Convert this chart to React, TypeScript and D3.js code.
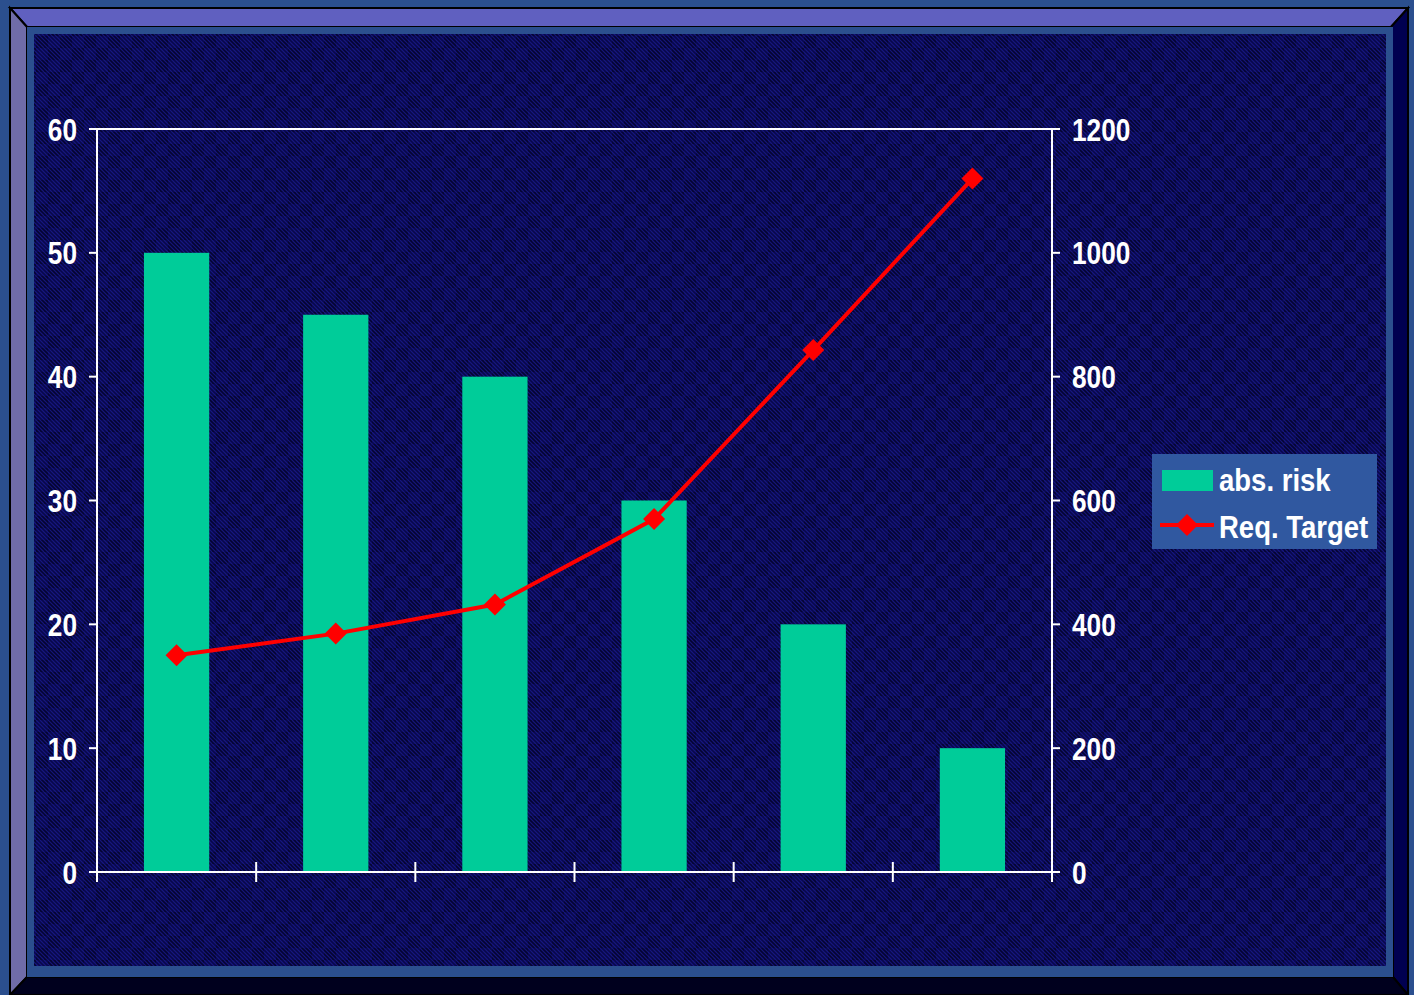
import React from "react";
import * as d3 from "d3";

const categories = ["c1", "c2", "c3", "c4", "c5", "c6"];
const absRisk = [50, 45, 40, 30, 20, 10];
const reqTarget = [350, 385, 432, 570, 843, 1120];
const leftTicks = [0, 10, 20, 30, 40, 50, 60];
const rightTicks = [0, 200, 400, 600, 800, 1000, 1200];
const seriesNames = ["abs. risk", "Req. Target"];

const W = 1414;
const H = 995;
const FONT = "'Liberation Sans', Arial, sans-serif";

function NText({ x, y, anchor, sx, size, children }: any) {
  return (
    <text transform={`translate(${x},${y}) scale(${sx},1)`} textAnchor={anchor} fontSize={size}>
      {children}
    </text>
  );
}

export default function App() {
  const left = 97, right = 1052, top = 129, bottom = 872;
  const x = d3.scaleBand<string>().domain(categories).range([left, right]).paddingInner(0).paddingOuter(0);
  const yL = d3.scaleLinear().domain([0, 60]).range([bottom, top]);
  const yR = d3.scaleLinear().domain([0, 1200]).range([bottom, top]);
  const bw = x.bandwidth() * 0.41;
  const line = d3.line<number>()
    .x((_, i) => (x(categories[i]) as number) + x.bandwidth() / 2)
    .y((d) => yR(d));
  const diamond = (cx: number, cy: number, r: number) =>
    `M${cx},${cy - r}L${cx + r},${cy}L${cx},${cy + r}L${cx - r},${cy}Z`;
  const boundaries = categories.map((c) => x(c) as number).concat([right]);

  return (
    <svg width={W} height={H} style={{ position: "absolute", left: 0, top: 0, display: "block" }}>
      <defs>
        <pattern id="bgpat" patternUnits="userSpaceOnUse" width="24" height="24">
          <rect width="24" height="24" fill="#08084a" />
          <rect x="0" y="0" width="12" height="12" fill="#040430" />
          <rect x="12" y="12" width="12" height="12" fill="#040430" />
          {d3.range(-24, 48, 4).map((o) => (
            <line key={o} x1={o} y1={0} x2={o + 24} y2={24} stroke="#1a1a94" strokeWidth="1.2" opacity="0.75" />
          ))}
        </pattern>
      </defs>
      <rect x={0} y={0} width={W} height={H} fill="#2b4f8e" />
      {/* bevel frame */}
      <polygon points="10,8 1408,8 1391,27 27,27" fill="#6060c0" stroke="#000" strokeWidth="2" />
      <polygon points="10,8 27,27 27,977 10,995" fill="#706ca8" stroke="#000" strokeWidth="2" />
      <polygon points="1408,8 1408,995 1393,977 1391,27" fill="#000050" stroke="#000" strokeWidth="2" />
      <polygon points="10,995 27,977 1393,977 1408,995" fill="#00001e" stroke="#000" strokeWidth="2" />
      <rect x={27} y={27} width={1366} height={950} fill="#2b4f8e" />
      <rect x={34} y={34} width={1352} height={932} fill="url(#bgpat)" />

      {/* bars */}
      {absRisk.map((v, i) => (
        <rect key={i}
          x={(x(categories[i]) as number) + (x.bandwidth() - bw) / 2}
          y={yL(v)} width={bw} height={bottom - yL(v)} fill="#00cc99" />
      ))}

      {/* axes */}
      <g stroke="#ffffff" strokeWidth="2" fill="none">
        <line x1={left - 8} y1={top} x2={right + 8} y2={top} />
        <line x1={left} y1={top} x2={left} y2={bottom + 10} />
        <line x1={right} y1={top} x2={right} y2={bottom + 10} />
        <line x1={left - 8} y1={bottom} x2={right + 8} y2={bottom} />
        {leftTicks.map((t) => (
          <line key={"l" + t} x1={left - 8} y1={yL(t)} x2={left} y2={yL(t)} />
        ))}
        {rightTicks.map((t) => (
          <line key={"r" + t} x1={right} y1={yR(t)} x2={right + 8} y2={yR(t)} />
        ))}
        {boundaries.map((b, i) => (
          <line key={"b" + i} x1={b} y1={bottom - 10} x2={b} y2={bottom + 10} />
        ))}
      </g>
      <g fill="#ffffff" fontFamily={FONT} fontWeight="bold">
        {leftTicks.map((t) => (
          <NText key={"lt" + t} x={77} y={yL(t) + 11.5} anchor="end" sx={0.82} size={32}>{t}</NText>
        ))}
        {rightTicks.map((t) => (
          <NText key={"rt" + t} x={1072} y={yR(t) + 11.5} anchor="start" sx={0.82} size={32}>{t}</NText>
        ))}
      </g>

      {/* line series */}
      <path d={line(reqTarget) || ""} fill="none" stroke="#ff0000" strokeWidth="4" />
      {reqTarget.map((v, i) => (
        <path key={i} d={diamond((x(categories[i]) as number) + x.bandwidth() / 2, yR(v), 11)} fill="#ff0000" />
      ))}

      {/* legend */}
      <rect x={1152} y={454} width={225} height={95} fill="#3058a0" />
      <rect x={1162} y={470} width={51} height={21} fill="#00cc99" />
      <line x1={1160} y1={525} x2={1214} y2={525} stroke="#ff0000" strokeWidth="4" />
      <path d={diamond(1187, 525, 11)} fill="#ff0000" />
      <g fill="#ffffff" fontFamily={FONT} fontWeight="bold">
        <NText x={1219} y={491} anchor="start" sx={0.86} size={32}>{seriesNames[0]}</NText>
        <NText x={1219} y={538} anchor="start" sx={0.86} size={32}>{seriesNames[1]}</NText>
      </g>
    </svg>
  );
}
